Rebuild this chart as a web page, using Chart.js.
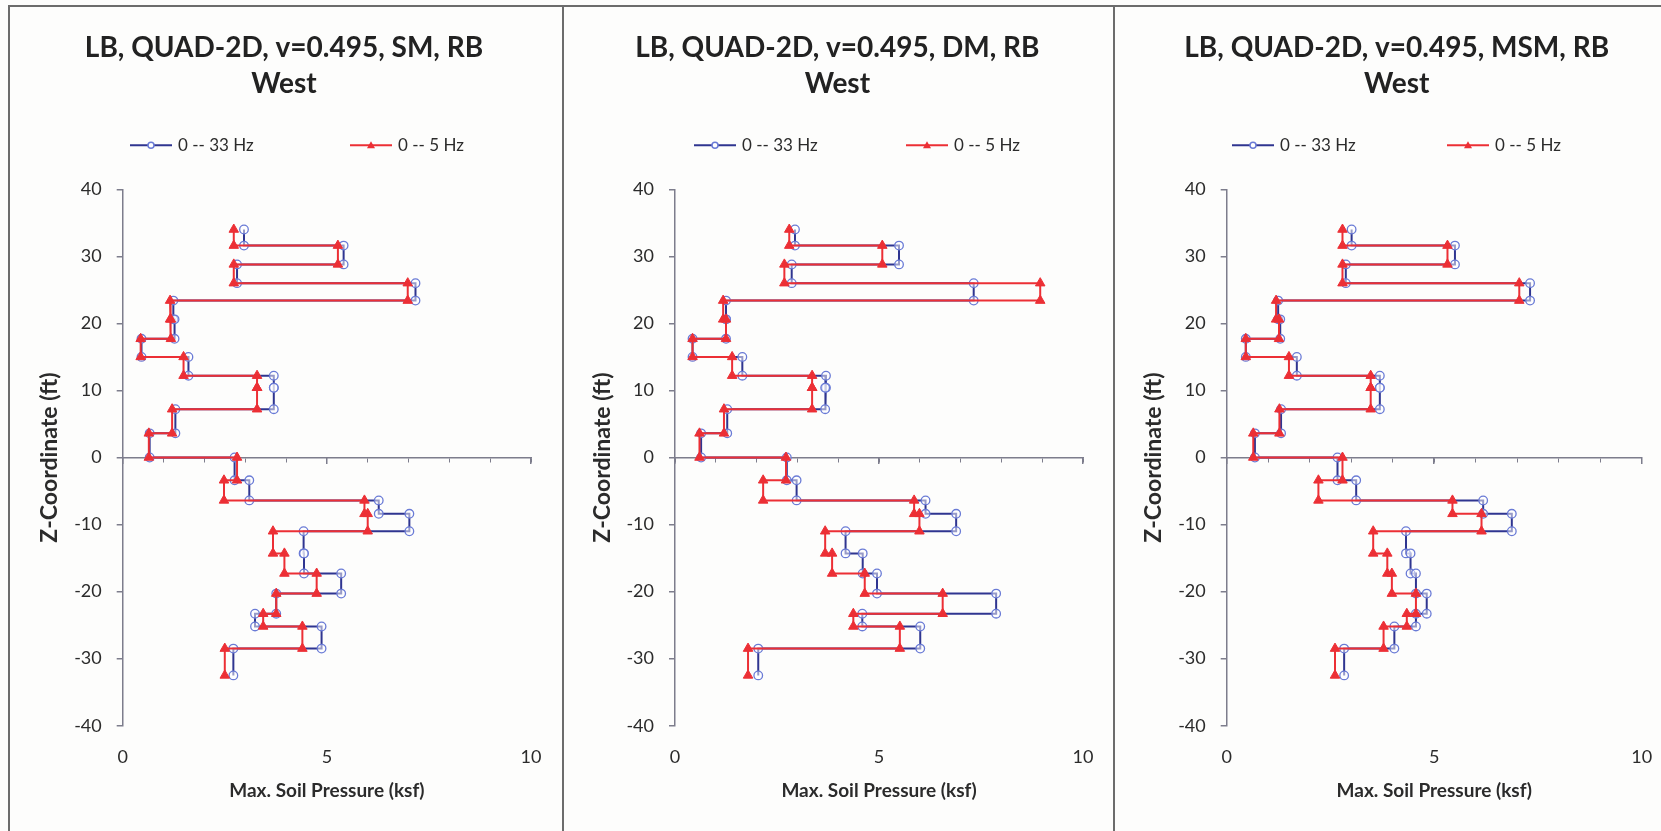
<!DOCTYPE html>
<html>
<head>
<meta charset="utf-8">
<script src="https://cdn.jsdelivr.net/npm/chart.js@4.4.1/dist/chart.umd.min.js"></script>
<style>
  html, body { margin: 0; padding: 0; background: #fdfdfc; overflow: hidden; width: 1661px; height: 831px; }
  canvas { position: absolute; top: 0; }
  .frame { position: absolute; top: 5px; height: 840px; box-sizing: border-box; border: 2px solid #6c6c6c; pointer-events: none; }
</style>
</head>
<body>
<canvas id="c1"></canvas>
<canvas id="c2"></canvas>
<canvas id="c3"></canvas>
<div class="frame" style="left:8px; width:556px"></div>
<div class="frame" style="left:562px; width:553px"></div>
<div class="frame" style="left:1113px; width:600px"></div>
<script>
// layer boundaries, z-coordinate (ft), top to bottom
const depthNodes = [34.0, 31.6, 28.8, 26.0, 23.4, 20.6, 17.7, 15.0, 12.2, 10.4, 7.2, 3.6, 0,
  -3.4, -6.4, -8.4, -11.0, -14.3, -17.3, -20.3, -23.3, -25.2, -28.5, -32.5];

const seriesNames = ['0 -- 33 Hz', '0 -- 5 Hz'];

// max soil pressure (ksf) per layer
const smBlue = [2.97, 5.41, 2.80, 7.17, 1.24, 1.27, 0.46, 1.61, 3.70, 3.70, 1.29, 0.66,
  2.74, 3.10, 6.27, 7.02, 4.43, 4.44, 5.35, 3.76, 3.24, 4.87, 2.71];
const smRed = [2.72, 5.27, 2.72, 6.98, 1.16, 1.18, 0.44, 1.49, 3.29, 3.29, 1.21, 0.64,
  2.80, 2.48, 5.92, 6.00, 3.68, 3.96, 4.75, 3.76, 3.44, 4.40, 2.50];

const dmBlue = [2.94, 5.49, 2.86, 7.32, 1.25, 1.25, 0.43, 1.65, 3.70, 3.68, 1.28, 0.64,
  2.74, 2.98, 6.14, 6.89, 4.18, 4.60, 4.95, 7.87, 4.59, 6.01, 2.04];
const dmRed = [2.80, 5.08, 2.68, 8.95, 1.18, 1.25, 0.43, 1.40, 3.36, 3.36, 1.20, 0.60,
  2.72, 2.16, 5.86, 5.99, 3.68, 3.85, 4.65, 6.56, 4.37, 5.51, 1.79];

const msmBlue = [3.01, 5.50, 2.87, 7.31, 1.24, 1.29, 0.46, 1.69, 3.69, 3.69, 1.31, 0.68,
  2.67, 3.12, 6.18, 6.87, 4.32, 4.43, 4.56, 4.82, 4.56, 4.04, 2.83];
const msmRed = [2.79, 5.32, 2.79, 7.05, 1.19, 1.26, 0.46, 1.50, 3.47, 3.47, 1.27, 0.64,
  2.79, 2.21, 5.44, 6.14, 3.53, 3.87, 3.98, 4.56, 4.34, 3.78, 2.61];

// padL shifts the title centre, yw is where x=0 sits
const panels = [
  { id: 'c1', left: 10, width: 552, padL: 21.3, yw: 112.7, rightPad: 25.3, legendX: [120, 340],
    title: ['LB, QUAD-2D, v=0.495, SM, RB', 'West'], blue: smBlue, red: smRed },
  { id: 'c2', left: 563, width: 551, padL: 22.5, yw: 112, rightPad: 24.7, legendX: [131, 343],
    title: ['LB, QUAD-2D, v=0.495, DM, RB', 'West'], blue: dmBlue, red: dmRed },
  { id: 'c3', left: 1114, width: 565, padL: 37.7, yw: 112.7, rightPad: 37.3, legendX: [118, 333],
    title: ['LB, QUAD-2D, v=0.495, MSM, RB', 'West'], blue: msmBlue, red: msmRed }
];

const axisColor = '#7d7d8c';
const textColor = '#2b2b2b';
const blueLine = '#2f3590';
const blueMark = '#6a7bd6';
const redLine = '#ec2f35';

// step profile: each layer is a vertical segment at constant pressure
function stepPoints(values) {
  const pts = [];
  values.forEach((v, i) => {
    pts.push({ x: v, y: depthNodes[i] });
    pts.push({ x: v, y: depthNodes[i + 1] });
  });
  return pts;
}

// legend with line + marker, like the excel one
const lineLegend = {
  id: 'lineLegend',
  afterDraw(chart, args, opts) {
    const ctx = chart.ctx;
    const y = chart.chartArea.top + opts.offsetY;
    ctx.save();
    chart.data.datasets.forEach((ds, i) => {
      const x = opts.starts[i];
      ctx.strokeStyle = ds.borderColor;
      ctx.lineWidth = 2;
      ctx.beginPath();
      ctx.moveTo(x, y);
      ctx.lineTo(x + 42, y);
      ctx.stroke();
      const mx = x + 21;
      ctx.beginPath();
      if (ds.pointStyle === 'triangle') {
        ctx.moveTo(mx, y - 4);
        ctx.lineTo(mx + 4, y + 3);
        ctx.lineTo(mx - 4, y + 3);
        ctx.closePath();
        ctx.fillStyle = ds.pointBackgroundColor;
        ctx.fill();
      } else {
        ctx.arc(mx, y, 3, 0, Math.PI * 2);
        ctx.fillStyle = '#ffffff';
        ctx.fill();
        ctx.strokeStyle = ds.pointBorderColor;
        ctx.lineWidth = 1.5;
        ctx.stroke();
      }
      ctx.fillStyle = textColor;
      ctx.font = '17px Lato';
      ctx.textBaseline = 'middle';
      ctx.textAlign = 'left';
      ctx.fillText(ds.label, x + 48, y);
    });
    ctx.restore();
  }
};

panels.forEach(p => {
  const canvas = document.getElementById(p.id);
  canvas.width = p.width;
  canvas.height = 831;
  canvas.style.left = p.left + 'px';
  canvas.style.width = p.width + 'px';
  canvas.style.height = '831px';

  new Chart(canvas, {
    type: 'scatter',
    data: {
      datasets: [{
        label: seriesNames[0],
        data: stepPoints(p.blue),
        showLine: true,
        borderColor: blueLine,
        borderWidth: 2,
        pointStyle: 'circle',
        pointRadius: 4.3,
        pointBorderWidth: 1.3,
        pointBorderColor: blueMark,
        pointBackgroundColor: 'rgba(255,255,255,0.5)',
        order: 1
      }, {
        label: seriesNames[1],
        data: stepPoints(p.red),
        showLine: true,
        borderColor: redLine,
        borderWidth: 2,
        pointStyle: 'triangle',
        pointRadius: 5.5,
        pointBorderWidth: 1,
        pointBorderColor: redLine,
        pointBackgroundColor: redLine,
        order: 0
      }]
    },
    options: {
      responsive: false,
      animation: false,
      devicePixelRatio: 1,
      events: [],
      layout: { padding: { left: p.padL, right: p.rightPad, top: 0, bottom: 0 } },
      plugins: {
        legend: { display: false },
        tooltip: { enabled: false },
        title: {
          display: true,
          text: p.title,
          color: '#222222',
          font: { family: 'Lato', size: 28, weight: 'bold', lineHeight: 1.28 },
          padding: { top: 29.8, bottom: 87.8 }
        },
        lineLegend: { offsetY: -44, starts: p.legendX }
      },
      scales: {
        x: {
          type: 'linear',
          position: 'bottom',
          min: 0,
          max: 10,
          ticks: { stepSize: 5, padding: 20.5, color: textColor, font: { family: 'Lato', size: 18 } },
          grid: { display: false, drawTicks: false },
          border: { display: false },
          title: {
            display: true,
            text: 'Max. Soil Pressure (ksf)',
            color: textColor,
            font: { family: 'Lato', size: 19, weight: 'bold' },
            padding: { top: 0, bottom: 28.6 }
          },
          afterFit: s => { s.height = 105.3; }
        },
        // zero line with minor ticks
        x2: {
          type: 'linear',
          axis: 'x',
          position: { y: 0 },
          min: 0,
          max: 10,
          ticks: { stepSize: 1, display: false },
          grid: { drawOnChartArea: false, drawTicks: true, tickLength: 4, color: axisColor, lineWidth: 1 },
          border: { display: true, color: axisColor, width: 1.5 }
        },
        x3: {
          type: 'linear',
          axis: 'x',
          position: { y: 0 },
          min: 0,
          max: 10,
          ticks: { stepSize: 5, display: false },
          grid: { drawOnChartArea: false, drawTicks: true, tickLength: 7, color: axisColor, lineWidth: 1.5 },
          border: { display: false }
        },
        y: {
          type: 'linear',
          min: -40,
          max: 40,
          ticks: { stepSize: 10, padding: 15, color: textColor, font: { family: 'Lato', size: 18 } },
          grid: { drawOnChartArea: false, drawTicks: true, tickLength: 6, color: axisColor, lineWidth: 1.5 },
          border: { display: true, color: axisColor, width: 1.5 },
          title: {
            display: true,
            text: 'Z-Coordinate (ft)',
            color: textColor,
            font: { family: 'Lato', size: 23, weight: 'bold' },
            padding: { top: 26.2 - p.padL, bottom: 0 }
          },
          afterFit: s => { s.width = p.yw - p.padL; }
        }
      }
    },
    plugins: [lineLegend]
  });
});
</script>
</body>
</html>
